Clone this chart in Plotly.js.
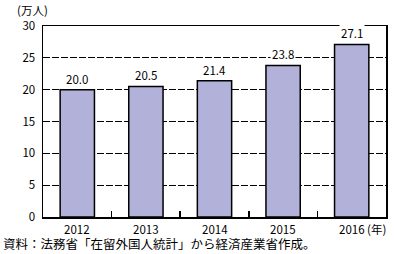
<!DOCTYPE html>
<html><head><meta charset="utf-8">
<script src="https://cdn.plot.ly/plotly-3.0.1.min.js"></script>
<style>body{margin:0;background:#fff}#c{width:394px;height:254px}</style>
</head><body><div id="c"></div>
<script>
const years = ['2012','2013','2014','2015','2016'];
const values = [20.0, 20.5, 21.4, 23.8, 27.1];
const valueLabels = ['20.0','20.5','21.4','23.8','27.1'];
const yTicks = [0,5,10,15,20,25,30];
const unitY = '(万人)';
const unitX = '(年)';
const source = '資料：法務省「在留外国人統計」から経済産業省作成。';

const F = '"Noto Sans CJK JP", "Noto Sans", sans-serif';
const idx = years.map((_,i)=>i);
const bounds = idx.slice(1).map(i=>i-0.5);
const trace = {
  type:'bar', x: idx, y: values, width: 0.5,
  marker:{color:'#b1b1d9', line:{color:'#000', width:1.5}},
  hoverinfo:'skip'
};
const ann = idx.map(i=>({
  x: i, y: values[i], xref:'x', yref:'y', text: valueLabels[i],
  showarrow:false, yanchor:'bottom', yshift:1, bgcolor:'#fff',
  font:{family:F, size:11.5, color:'#000'}, borderpad:1
}));
idx.forEach(i=>ann.push({
  x: i, y: 0, xref:'x', yref:'paper', text: years[i], showarrow:false,
  yanchor:'top', yshift:-2, font:{family:F, size:11.5, color:'#000'}
}));
ann.push({xref:'paper', yref:'paper', x:-0.082, y:1.0, xanchor:'left', yanchor:'bottom', yshift:6,
  text: unitY, showarrow:false, font:{family:F, size:11.5, color:'#000'}});
ann.push({xref:'paper', yref:'paper', x:0.94, y:0, xanchor:'left', yanchor:'top', yshift:-2,
  text: unitX, showarrow:false, font:{family:F, size:11.5, color:'#000'}});
ann.push({xref:'paper', yref:'paper', x:-0.122, y:-0.14, xanchor:'left', yanchor:'middle',
  text: source, showarrow:false, font:{family:F, size:12.5, color:'#000'}});

const layout = {
  width:394, height:254,
  margin:{l:43, r:8, t:26, b:37},
  paper_bgcolor:'#fff', plot_bgcolor:'#fff',
  showlegend:false,
  xaxis:{range:[-0.5, years.length-0.5], tickvals: bounds, showticklabels:false,
    ticks:'inside', ticklen:6, tickcolor:'#000', tickwidth:1.5,
    showline:true, linecolor:'#000', linewidth:1.5, mirror:true, showgrid:false, zeroline:false,
    fixedrange:true},
  yaxis:{range:[0,30], tickvals:yTicks, ticks:'', showline:true, linecolor:'#000', linewidth:1.5, mirror:true,
    showgrid:true, gridcolor:'#000', gridwidth:1, griddash:'7px,2px', zeroline:false,
    tickfont:{family:F, size:11.5, color:'#000'}, ticklabelstandoff:4},
  annotations: ann
};
Plotly.newPlot('c',[trace],layout,{staticPlot:true});
</script></body></html>
